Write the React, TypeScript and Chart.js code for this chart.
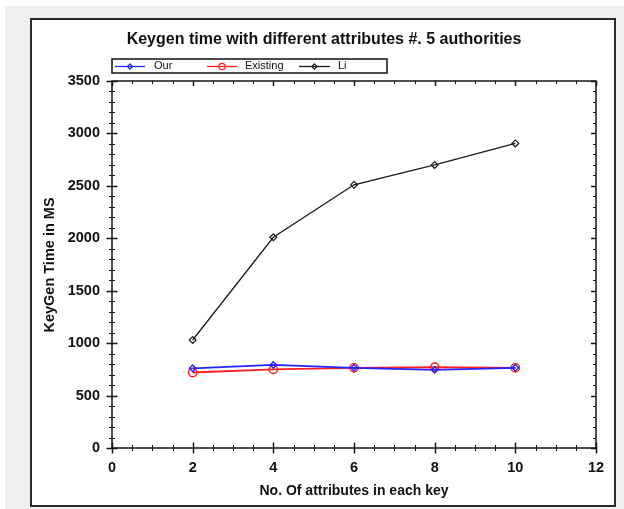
import React, { useEffect, useRef } from "react";
import { Chart, registerables } from "chart.js";

Chart.register(...registerables);

// ---- data ----
const attributeCounts = [2, 4, 6, 8, 10];
const ourTimes = [760, 792, 765, 745, 765];
const existingTimes = [720, 750, 765, 770, 765];
const liTimes = [1030, 2010, 2510, 2700, 2905];
const seriesNames = ["Our", "Existing", "Li"];
const chartTitle = "Keygen time with different attributes #. 5 authorities";
const xAxisTitle = "No. Of attributes in each key";
const yAxisTitle = "KeyGen Time in MS";
const xRange = [0, 12];
const yRange = [0, 3500];
const xMajorStep = 2;
const xMinorStep = 0.5;
const yMajorStep = 500;
const yMinorStep = 100;

const FONT = "'Liberation Sans', Arial, sans-serif";
const TEXT = "#111";
const COLORS = ["#2424ff", "#ff1e1e", "#1a1a1a"];

function drawMarker(ctx: CanvasRenderingContext2D, style: string, x: number, y: number, r: number, color: string) {
  ctx.save();
  ctx.strokeStyle = color;
  ctx.lineWidth = 1.2;
  ctx.beginPath();
  if (style === "circle") {
    ctx.arc(x, y, r, 0, Math.PI * 2);
  } else {
    ctx.moveTo(x, y - r);
    ctx.lineTo(x + r, y);
    ctx.lineTo(x, y + r);
    ctx.lineTo(x - r, y);
    ctx.closePath();
  }
  ctx.stroke();
  ctx.restore();
}

const framePlugin = {
  id: "framePlugin",
  beforeDraw(chart: any) {
    const ctx: CanvasRenderingContext2D = chart.ctx;
    ctx.save();
    ctx.fillStyle = "#ffffff";
    ctx.fillRect(0, 0, chart.width, chart.height);
    ctx.fillStyle = "#f0f0f0";
    ctx.fillRect(5, 6, chart.width - 5, chart.height - 6);
    ctx.fillStyle = "#ffffff";
    ctx.fillRect(31, 19, 584, 487);
    ctx.strokeStyle = "#2a2a2a";
    ctx.lineWidth = 2;
    ctx.strokeRect(31, 19, 584, 487);
    ctx.restore();
  },
  afterDraw(chart: any) {
    const ctx: CanvasRenderingContext2D = chart.ctx;
    const xs = chart.scales.x;
    const ys = chart.scales.y;
    const { left, right, top, bottom } = chart.chartArea;
    ctx.save();
    // frame
    ctx.strokeStyle = "#151515";
    ctx.lineWidth = 1.5;
    ctx.strokeRect(left, top, right - left, bottom - top);

    const seg = (x1: number, y1: number, x2: number, y2: number, w: number) => {
      ctx.lineWidth = w;
      ctx.beginPath();
      ctx.moveTo(x1, y1);
      ctx.lineTo(x2, y2);
      ctx.stroke();
    };
    // x ticks
    const nx = Math.round((xRange[1] - xRange[0]) / xMinorStep);
    for (let i = 0; i <= nx; i++) {
      const v = xRange[0] + i * xMinorStep;
      const major = Math.abs(v / xMajorStep - Math.round(v / xMajorStep)) < 1e-9;
      const px = Math.round(xs.getPixelForValue(v)) + 0.5;
      const L = major ? 5.5 : 3;
      seg(px, bottom - L, px, bottom + L, major ? 1.5 : 1);
      seg(px, top, px, top + (major ? 5 : 3), major ? 1.5 : 1);
    }
    // y ticks
    const ny = Math.round((yRange[1] - yRange[0]) / yMinorStep);
    for (let i = 0; i <= ny; i++) {
      const v = yRange[0] + i * yMinorStep;
      const major = v % yMajorStep === 0;
      const py = Math.round(ys.getPixelForValue(v)) + 0.5;
      const L = major ? 5.5 : 3;
      seg(left - L, py, left + L, py, major ? 1.5 : 1);
      seg(right, py, right - (major ? 5 : 3), py, major ? 1.5 : 1);
    }

    // title
    ctx.fillStyle = TEXT;
    ctx.textAlign = "center";
    ctx.textBaseline = "middle";
    ctx.font = `bold 16px ${FONT}`;
    ctx.fillText(chartTitle, 324, 40);

    // axis titles
    ctx.font = `bold 14px ${FONT}`;
    ctx.fillText(xAxisTitle, (left + right) / 2, 491);
    ctx.save();
    ctx.translate(50, 265);
    ctx.rotate(-Math.PI / 2);
    ctx.font = `bold 14.5px ${FONT}`;
    ctx.fillText(yAxisTitle, 0, 0);
    ctx.restore();

    // legend
    ctx.strokeStyle = "#111";
    ctx.lineWidth = 1.5;
    ctx.strokeRect(112, 59, 275, 14);
    const ly = 66;
    const items = [
      { x1: 115, x2: 145, text: 154 },
      { x1: 207, x2: 237, text: 245 },
      { x1: 299, x2: 330, text: 338 },
    ];
    ctx.font = `11px ${FONT}`;
    ctx.textAlign = "left";
    chart.data.datasets.forEach((ds: any, i: number) => {
      const it = items[i];
      ctx.strokeStyle = ds.borderColor;
      seg(it.x1, ly + 0.5, it.x2, ly + 0.5, 1.3);
      drawMarker(ctx, ds.pointStyle, (it.x1 + it.x2) / 2, ly + 0.5, ds.pointStyle === "circle" ? 3.2 : 2.6, ds.borderColor);
      ctx.fillStyle = TEXT;
      ctx.fillText(ds.label, it.text, ly);
    });
    ctx.restore();
  },
};

export default function App() {
  const ref = useRef<HTMLCanvasElement | null>(null);
  useEffect(() => {
    document.body.style.margin = "0";
    const canvas = ref.current!;
    const mk = (vals: number[]) => attributeCounts.map((x, i) => ({ x, y: vals[i] }));
    const chart = new Chart(canvas, {
      type: "line",
      data: {
        datasets: [
          {
            label: seriesNames[0],
            data: mk(ourTimes),
            borderColor: COLORS[0],
            backgroundColor: "rgba(0,0,0,0)",
            borderWidth: 1.8,
            pointStyle: "rectRot",
            pointRadius: 3.2,
            pointBorderWidth: 1.4,
            pointBackgroundColor: "rgba(0,0,0,0)",
            tension: 0,
          },
          {
            label: seriesNames[1],
            data: mk(existingTimes),
            borderColor: COLORS[1],
            backgroundColor: "rgba(0,0,0,0)",
            borderWidth: 1.8,
            pointStyle: "circle",
            pointRadius: 4.2,
            pointBorderWidth: 1.4,
            pointBackgroundColor: "rgba(0,0,0,0)",
            tension: 0,
          },
          {
            label: seriesNames[2],
            data: mk(liTimes),
            borderColor: COLORS[2],
            backgroundColor: "rgba(0,0,0,0)",
            borderWidth: 1.3,
            pointStyle: "rectRot",
            pointRadius: 3.4,
            pointBorderWidth: 1.2,
            pointBackgroundColor: "rgba(0,0,0,0)",
            tension: 0,
          },
        ],
      } as any,
      options: {
        responsive: false,
        animation: false,
        events: [],
        layout: { padding: { left: 0, top: 81, right: 28, bottom: 0 } },
        plugins: {
          legend: { display: false },
          title: { display: false },
          tooltip: { enabled: false },
        },
        scales: {
          x: {
            type: "linear",
            min: xRange[0],
            max: xRange[1],
            ticks: {
              stepSize: xMajorStep,
              autoSkip: false,
              maxRotation: 0,
              padding: 11,
              color: TEXT,
              font: { family: FONT, size: 14.5, weight: "bold" },
              callback: (v: any) => String(v),
            },
            grid: { display: false, drawTicks: false },
            border: { display: false },
            afterFit: (s: any) => {
              s.height = 61;
            },
          },
          y: {
            type: "linear",
            min: yRange[0],
            max: yRange[1],
            ticks: {
              stepSize: yMajorStep,
              autoSkip: false,
              padding: 12,
              color: TEXT,
              font: { family: FONT, size: 14.5, weight: "bold" },
              callback: (v: any) => String(v),
            },
            grid: { display: false, drawTicks: false },
            border: { display: false },
            afterFit: (s: any) => {
              s.width = 112;
            },
          },
        },
      } as any,
      plugins: [framePlugin],
    });
    return () => chart.destroy();
  }, []);
  return (
    <canvas
      ref={ref}
      width={624}
      height={509}
      style={{ display: "block", width: 624, height: 509 }}
    />
  );
}
